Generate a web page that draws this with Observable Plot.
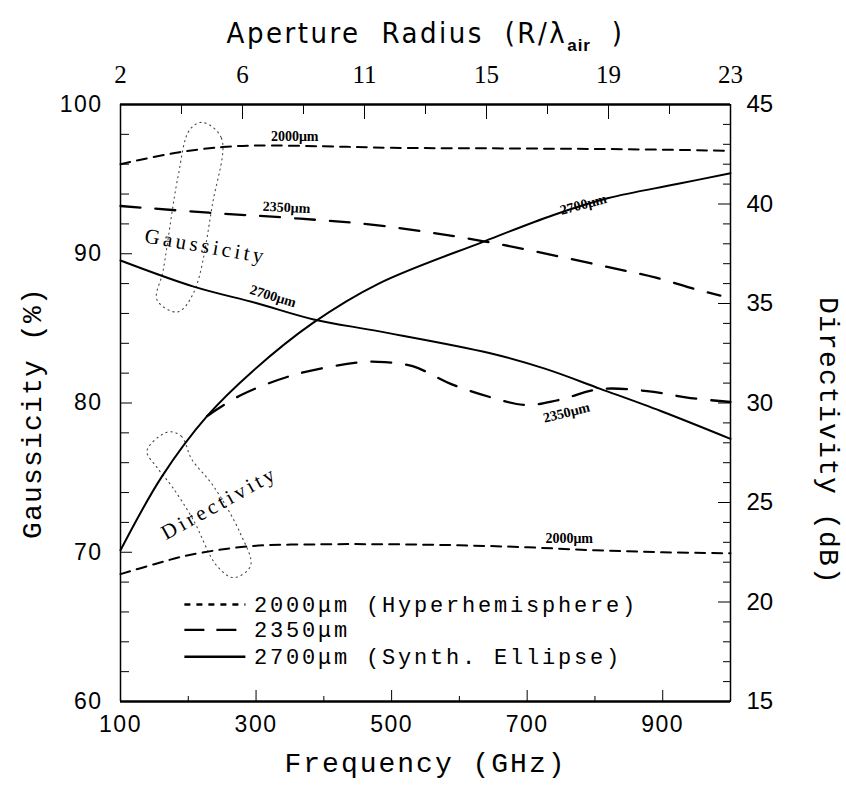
<!DOCTYPE html>
<html>
<head>
<meta charset="utf-8">
<script src="https://cdn.jsdelivr.net/npm/d3@7"></script>
<script src="https://cdn.jsdelivr.net/npm/@observablehq/plot@0.6"></script>
<style>
  html, body { margin: 0; padding: 0; background: #fff; }
  svg { display: block; }
</style>
</head>
<body>
<div id="chart"></div>
<script>
// ---------------- data ----------------
// Frequency (GHz) axis ticks
const freqLabelTicks = [100, 300, 500, 700, 900];
const freqMajorTicks = [300, 500, 700, 900];
const freqMinorTicks = [200, 400, 600, 800];
// Aperture radius (R/lambda_air) top axis: ticks at these frequencies
const radiusTickFreqs = [100, 190, 280, 370, 460, 550, 640, 730, 820, 910, 1000];
const radiusLabelFreqs = [100, 280, 460, 640, 820, 1000];
const radiusLabels = ["2", "6", "11", "15", "19", "23"];
// Gaussicity (%) left axis
const gaussLabelTicks = [60, 70, 80, 90, 100];
const gaussMinorTicks = [62, 64, 66, 68, 72, 74, 76, 78, 82, 84, 86, 88, 92, 94, 96, 98];
// Directivity (dB) right axis
const dirLabelTicks = [15, 20, 25, 30, 35, 40, 45];
const dirMinorTicks = [16, 17, 18, 19, 21, 22, 23, 24, 26, 27, 28, 29, 31, 32, 33, 34, 36, 37, 38, 39, 41, 42, 43, 44];

// Gaussicity curves [frequency GHz, gaussicity %]
const gauss2000 = [[100, 96.0], [180, 96.75], [250, 97.15], [300, 97.25], [400, 97.2], [500, 97.1], [700, 97.05], [850, 97.0], [1000, 96.9]];
const gauss2350 = [[100, 93.2], [230, 92.75], [350, 92.4], [480, 91.9], [640, 90.8], [820, 89.1], [890, 88.4], [950, 87.6], [985, 87.2]];
const gauss2700 = [[100, 89.55], [208, 87.8], [300, 86.7], [385, 85.6], [482, 84.8], [644, 83.35], [726, 82.3], [808, 80.95], [898, 79.45], [1000, 77.6]];

// Directivity curves [frequency GHz, directivity dB]
const dir2000 = [[100, 21.4], [150, 21.9], [200, 22.35], [290, 22.8], [400, 22.9], [500, 22.9], [600, 22.85], [700, 22.75], [800, 22.6], [900, 22.5], [1000, 22.45]];
const dir2350 = [[228, 29.35], [278, 30.4], [360, 31.45], [455, 32.05], [490, 32.05], [531, 31.85], [588, 30.95], [645, 30.3], [698, 29.9], [746, 30.15], [808, 30.7], [877, 30.6], [941, 30.25], [1000, 30.05]];
const dir2700 = [[100, 22.6], [161, 26.3], [228, 29.35], [295, 31.6], [383, 34.0], [481, 36.0], [635, 38.1], [739, 39.45], [820, 40.3], [921, 41.0], [1000, 41.55]];

// dotted grouping loops (frequency, gaussicity-axis units)
const loopGauss = [[221, 98.8], [249, 97.74], [236, 93.4], [208, 87.4], [184, 86.1], [154, 86.9], [163, 88.9], [185, 95.2], [202, 98.3]];
const loopDir = [[170, 78.06], [190, 77.76], [205, 76.24], [237, 74.44], [276, 71.34], [292, 69.1], [267, 68.3], [242, 69.1], [207, 72.2], [176, 74.4], [153.5, 75.7], [139, 76.8]];

// in-plot curve labels
const curveLabelText = ["2000μm", "2350μm", "2700μm", "2700μm", "2350μm", "2000μm"];
const curveLabelFreq = [357, 345, 325, 783, 758, 762];
const curveLabelGauss = [97.85, 93.1, 87.15, 93.3, 79.35, 70.9];
const curveLabelAngle = [0, 3, 17, -15, -14, 0];

const groupText = ["Gaussicity", "Directivity"];
const groupFreq = [226, 246];
const groupGauss = [90.5, 73.3];
const groupAngle = [10, -29];

// legend
const legendLabels = ["2000μm (Hyperhemisphere)", "2350μm", "2700μm (Synth. Ellipse)"];
const legendDash = ["6,6", "20,12", null];

// ---------------- helpers ----------------
const toG = d => 60 + (d - 15) * 40 / 30;   // directivity -> left-axis units
const fromG = g => 15 + (g - 60) * 30 / 40;
const X = d => d[0], Y = d => d[1], YD = d => toG(d[1]);

const legendGauss = [66.5, 64.8, 63.0];
const legendX1 = 195, legendX2 = 285, legendTextX = 297;

const mono = "Liberation Mono, DejaVu Sans Mono, monospace";
const sans = "Liberation Sans, Arial, sans-serif";
const sansR = "Liberation Sans, Arial, Helvetica, sans-serif";
const serif = "Liberation Serif, Times New Roman, serif";

const lineW = 2;

const chart = Plot.plot({
  width: 846,
  height: 792,
  marginLeft: 120,
  marginRight: 116,
  marginTop: 104,
  marginBottom: 91,
  style: { background: "#fff", color: "#000", fontFamily: sans },
  x: { domain: [100, 1000] },
  y: { domain: [60, 100] },
  marks: [
    // frame
    Plot.ruleY([60, 100], { strokeWidth: 2.4 }),
    Plot.ruleX([100, 1000], { strokeWidth: 1.5 }),

    // bottom axis (frequency)
    Plot.axisX({ anchor: "bottom", ticks: freqMajorTicks, tickSize: -11, tickFormat: () => "", label: null }),
    Plot.axisX({ anchor: "bottom", ticks: freqMinorTicks, tickSize: -5, tickFormat: () => "", label: null }),
    Plot.axisX({ anchor: "bottom", ticks: freqLabelTicks, tickSize: 0, tickPadding: 14, label: null,
      fontSize: 23, fontFamily: sans, tickFormat: d => String(d) }),

    // top axis (aperture radius)
    Plot.axisX({ anchor: "top", ticks: radiusLabelFreqs, tickSize: -14, tickFormat: () => "", label: null }),
    Plot.axisX({ anchor: "top", ticks: radiusTickFreqs.filter(t => !radiusLabelFreqs.includes(t)), tickSize: -9, tickFormat: () => "", label: null }),
    Plot.axisX({ anchor: "top", ticks: radiusLabelFreqs, tickSize: 0, tickPadding: 22, label: null,
      fontSize: 25, fontFamily: serif, tickFormat: d => radiusLabels[radiusLabelFreqs.indexOf(d)] }),

    // left axis (gaussicity)
    Plot.axisY({ anchor: "left", ticks: gaussLabelTicks, tickSize: -12, tickFormat: () => "", label: null }),
    Plot.axisY({ anchor: "left", ticks: gaussMinorTicks, tickSize: -9, tickFormat: () => "", label: null }),
    Plot.axisY({ anchor: "left", ticks: gaussLabelTicks, tickSize: 0, tickPadding: 18, label: null,
      fontSize: 23, fontFamily: sans, tickFormat: d => String(d) }),

    // right axis (directivity)
    Plot.axisY({ anchor: "right", ticks: dirLabelTicks.map(toG), tickSize: -13, tickFormat: () => "", label: null }),
    Plot.axisY({ anchor: "right", ticks: dirMinorTicks.map(toG), tickSize: -8, tickFormat: () => "", label: null }),
    Plot.axisY({ anchor: "right", ticks: dirLabelTicks.map(toG), tickSize: 0, tickPadding: 16, label: null,
      fontSize: 24, fontFamily: sansR, tickFormat: g => String(Math.round(fromG(g))) }),

    // dotted grouping loops
    Plot.line(loopGauss, { x: X, y: Y, curve: "catmull-rom-closed", stroke: "#444", strokeWidth: 1.1, strokeDasharray: "1.2,4" }),
    Plot.line(loopDir, { x: X, y: Y, curve: "catmull-rom-closed", stroke: "#444", strokeWidth: 1.1, strokeDasharray: "1.2,4" }),

    // gaussicity curves
    Plot.line(gauss2000, { x: X, y: Y, curve: "catmull-rom", strokeWidth: lineW, strokeDasharray: "10,7" }),
    Plot.line(gauss2350, { x: X, y: Y, curve: "catmull-rom", strokeWidth: lineW + 0.3, strokeDasharray: "20,15" }),
    Plot.line(gauss2700, { x: X, y: Y, curve: "catmull-rom", strokeWidth: lineW }),

    // directivity curves
    Plot.line(dir2000, { x: X, y: YD, curve: "catmull-rom", strokeWidth: lineW, strokeDasharray: "10,7" }),
    Plot.line(dir2350, { x: X, y: YD, curve: "catmull-rom", strokeWidth: lineW + 0.3, strokeDasharray: "20,15" }),
    Plot.line(dir2700, { x: X, y: YD, curve: "catmull-rom", strokeWidth: lineW }),

    // curve labels
    Plot.text(curveLabelText, {
      x: (d, i) => curveLabelFreq[i], y: (d, i) => curveLabelGauss[i], rotate: (d, i) => curveLabelAngle[i],
      text: d => d, fontFamily: serif, fontWeight: "bold", fontSize: 14, fill: "#000"
    }),
    Plot.text(groupText, {
      x: (d, i) => groupFreq[i], y: (d, i) => groupGauss[i], rotate: (d, i) => groupAngle[i],
      text: d => d, fontFamily: serif, fontSize: 21, fill: "#000"
    }),

    // legend
    ...legendLabels.map((lab, i) => Plot.ruleY([legendGauss[i]], {
      x1: legendX1, x2: legendX2, strokeWidth: lineW + 0.3, strokeDasharray: legendDash[i] || undefined
    })),
    Plot.text(legendLabels, {
      x: legendTextX, y: (d, i) => legendGauss[i], text: d => d, textAnchor: "start",
      fontFamily: mono, fontSize: 22, fill: "#000"
    }),

    // axis titles
    Plot.text(["Aperture Radius (R/λ"], { frameAnchor: "top", dy: -82, textAnchor: "middle", text: d => d,
      fontFamily: "Liberation Sans Narrow, DejaVu Sans Condensed, sans-serif", fontSize: 29 }),
    Plot.text(["Frequency (GHz)"], { frameAnchor: "bottom", dy: 70, textAnchor: "middle", text: d => d, fontFamily: mono, fontSize: 28 }),
    Plot.text(["Gaussicity (%)"], { frameAnchor: "left", dx: -88, dy: 10, rotate: -90, textAnchor: "middle", text: d => d, fontFamily: mono, fontSize: 28 }),
    Plot.text(["Directivity (dB)"], { frameAnchor: "right", dx: 98, dy: 38, rotate: 90, textAnchor: "middle", text: d => d, fontFamily: mono, fontSize: 28 })
  ]
});

document.getElementById("chart").appendChild(chart);

// ----- typographic touches (letter spacing, subscript) -----
const NS = "http://www.w3.org/2000/svg";
chart.querySelectorAll("text").forEach(t => {
  const s = t.textContent;
  const fam = (t.closest("g") && t.closest("g").getAttribute("font-family")) || "";
  if (/^\d+$/.test(s) && fam === sans) t.setAttribute("letter-spacing", "1.5");
  if (legendLabels.includes(s) && fam === mono) t.setAttribute("letter-spacing", "2.8");
  if (s === "Frequency (GHz)") t.setAttribute("letter-spacing", "2");
  if (s === "Gaussicity (%)") t.setAttribute("letter-spacing", "1.2");
  if (s === "Directivity (dB)") t.setAttribute("letter-spacing", "1.2");
  if (groupText.includes(s)) t.setAttribute("letter-spacing", "3.5");
  if (s.startsWith("Aperture")) {
    t.setAttribute("letter-spacing", "2.5");
    t.setAttribute("word-spacing", "10");
    t.setAttribute("text-anchor", "middle");
    const sub = document.createElementNS(NS, "tspan");
    sub.setAttribute("dy", "8");
    sub.setAttribute("font-size", "17");
    sub.setAttribute("font-weight", "bold");
    sub.setAttribute("letter-spacing", "1");
    sub.setAttribute("font-family", "Liberation Sans, sans-serif");
    sub.textContent = "air";
    const close = document.createElementNS(NS, "tspan");
    close.setAttribute("dy", "-8");
    close.textContent = " )";
    t.appendChild(sub);
    t.appendChild(close);
  }
});
</script>
</body>
</html>
